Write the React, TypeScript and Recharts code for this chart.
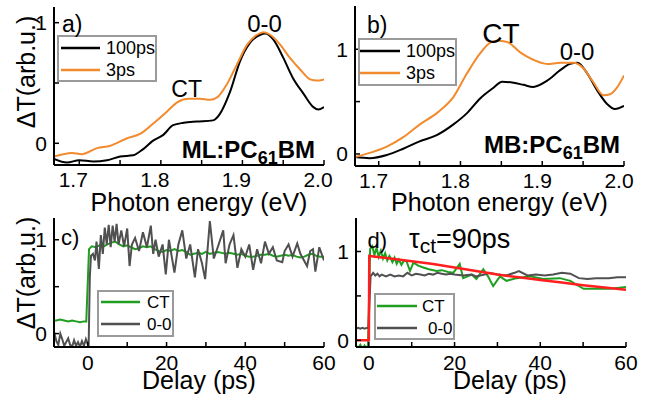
import React from 'react';
import { LineChart, Line, XAxis, YAxis } from 'recharts';

const FONT = '"Liberation Sans", Arial, sans-serif';

// a) ML:PC61BM spectra  [photon energy (eV), dT (arb.u.)]
const mlSpec100ps: [number, number][] = [
  [1.669, -0.13], [1.685, -0.16], [1.7, -0.14], [1.717, -0.15], [1.734, -0.14], [1.75, -0.11],
  [1.766, -0.1], [1.778, -0.05], [1.79, 0.02], [1.803, 0.07], [1.815, 0.15], [1.828, 0.17],
  [1.844, 0.18], [1.864, 0.19], [1.872, 0.24], [1.885, 0.43], [1.897, 0.68], [1.909, 0.83],
  [1.922, 0.9], [1.928, 0.91], [1.938, 0.86], [1.95, 0.71], [1.962, 0.54], [1.975, 0.41],
  [1.987, 0.3], [1.993, 0.28], [2.0, 0.3],
];
const mlSpec3ps: [number, number][] = [
  [1.669, -0.11], [1.691, -0.08], [1.703, -0.09], [1.722, -0.04], [1.738, -0.02], [1.758, 0.04],
  [1.775, 0.08], [1.79, 0.16], [1.807, 0.26], [1.82, 0.34], [1.834, 0.37], [1.848, 0.37],
  [1.86, 0.36], [1.869, 0.38], [1.881, 0.49], [1.893, 0.65], [1.906, 0.82], [1.918, 0.9],
  [1.926, 0.92], [1.934, 0.9], [1.946, 0.82], [1.958, 0.71], [1.971, 0.61], [1.983, 0.53],
  [1.991, 0.52], [2.0, 0.53],
];

// b) MB:PC61BM spectra
const mbSpec100ps: [number, number][] = [
  [1.671, -0.03], [1.689, -0.04], [1.71, -0.01], [1.73, 0.05], [1.75, 0.12], [1.771, 0.18],
  [1.791, 0.28], [1.808, 0.39], [1.824, 0.53], [1.84, 0.63], [1.851, 0.69], [1.865, 0.68],
  [1.877, 0.66], [1.889, 0.64], [1.906, 0.7], [1.922, 0.8], [1.934, 0.86], [1.943, 0.87],
  [1.955, 0.77], [1.967, 0.61], [1.979, 0.48], [1.989, 0.43], [2.0, 0.46],
];
const mbSpec3ps: [number, number][] = [
  [1.671, -0.03], [1.689, 0.01], [1.71, 0.07], [1.73, 0.16], [1.75, 0.28], [1.771, 0.39],
  [1.791, 0.54], [1.808, 0.77], [1.824, 0.96], [1.836, 1.06], [1.845, 1.08], [1.857, 1.07],
  [1.873, 0.97], [1.889, 0.9], [1.906, 0.86], [1.922, 0.87], [1.938, 0.87], [1.95, 0.82],
  [1.962, 0.69], [1.975, 0.56], [1.983, 0.57], [1.992, 0.64], [2.0, 0.75],
];

// c) ML:PC61BM kinetics  [delay (ps), dT (arb.u.)]
const mlKinCT: [number, number][] = [
  [-8.6, 0.14], [-8, 0.14], [-7, 0.15], [-6, 0.14], [-5, 0.13], [-4, 0.14], [-3, 0.13], [-2, 0.12],
  [-1, 0.13], [-0.4, 0.13], [0.3, 0.9], [1, 0.93], [2, 0.92], [3, 0.94], [4, 0.93], [5, 0.95],
  [6, 0.97], [7, 0.98], [8, 0.95], [9, 0.93], [10, 0.94], [11, 0.92], [12, 0.9], [13, 0.91],
  [14, 0.93], [15, 0.92], [16, 0.93], [17, 0.9], [18, 0.88], [19, 0.87], [20, 0.89], [21, 0.88],
  [22, 0.9], [23, 0.88], [24, 0.89], [25, 0.87], [26, 0.84], [27, 0.85], [28, 0.86], [29, 0.85],
  [30, 0.87], [31, 0.85], [32, 0.86], [33, 0.87], [34, 0.86], [35, 0.85], [36, 0.86], [37, 0.85],
  [38, 0.84], [39, 0.85], [40, 0.83], [41, 0.82], [42, 0.82], [43, 0.83], [44, 0.84], [45, 0.84],
  [46, 0.85], [47, 0.83], [48, 0.82], [49, 0.83], [50, 0.84], [51, 0.83], [52, 0.84], [53, 0.82],
  [54, 0.81], [55, 0.82], [56, 0.84], [57, 0.85], [58, 0.83], [59, 0.82], [60, 0.82],
];
const mlKin00: [number, number][] = [
  [-8.6, 0.02], [-8, -0.08], [-7.5, -0.12], [-7, 0.0], [-6.5, -0.06], [-6, -0.13], [-5, -0.05],
  [-4.5, -0.12], [-4, -0.14], [-3.5, -0.07], [-3, -0.13], [-2.5, -0.09], [-2, -0.14], [-1.5, -0.08],
  [-1, -0.13], [-0.5, -0.06], [0.2, -0.14], [0.5, 0.6], [0.8, 0.83], [1.3, 0.85], [1.8, 0.78],
  [2.2, 0.98], [2.8, 0.69], [3.3, 1.05], [3.8, 0.85], [4.3, 1.13], [4.8, 0.95], [5.3, 1.16],
  [5.8, 0.92], [6.3, 1.15], [6.8, 0.98], [7.3, 1.17], [7.8, 0.95], [8.5, 1.1], [9.2, 0.93],
  [10, 1.12], [10.6, 0.72], [11.2, 0.95], [12, 1.02], [13, 0.88], [14, 1.08], [15, 0.92],
  [16, 1.15], [16.6, 0.85], [17.2, 1.0], [18, 0.82], [19, 0.95], [19.8, 0.63], [20.6, 1.0],
  [22, 0.65], [23, 0.95], [24, 1.1], [25, 0.8], [26, 0.95], [27.2, 0.6], [28, 0.9], [29, 0.75],
  [29.8, 0.58], [31, 1.2], [32, 0.8], [33, 0.92], [34.4, 1.1], [35, 0.75], [36, 0.95], [37, 1.05],
  [38, 0.7], [39, 0.9], [40, 0.82], [41, 0.95], [42, 0.68], [43, 0.9], [44, 0.75], [45, 0.98],
  [46, 0.85], [47, 0.92], [48, 0.78], [49.4, 0.76], [50, 0.88], [51, 0.95], [52, 0.82], [53.2, 0.96],
  [54, 0.85], [55.7, 0.72], [56.5, 0.88], [57.2, 0.9], [57.8, 0.66], [58.8, 0.92], [60, 0.78],
];

// d) MB:PC61BM kinetics and single exponential fit
const mbKinCT: [number, number][] = [
  [-3, -0.06], [-2.5, -0.09], [-2, -0.05], [-1.5, -0.1], [-1, -0.06], [-0.5, -0.1], [-0.2, -0.05],
  [0.3, 1.03], [0.8, 1.06], [1.3, 0.96], [1.8, 1.04], [2.3, 0.94], [2.8, 1.01], [3.3, 0.92],
  [3.8, 0.98], [4.3, 0.9], [4.8, 0.95], [5.5, 0.88], [6, 0.93], [6.5, 0.86], [7, 0.91], [7.6, 0.85],
  [8.2, 0.9], [8.8, 0.89], [9.6, 0.78], [10.4, 0.875], [11.5, 0.84], [12.7, 0.82], [14, 0.8],
  [15.8, 0.78], [17, 0.79], [18.5, 0.77], [19.7, 0.76], [21.2, 0.86], [22, 0.7], [24, 0.74],
  [25.1, 0.69], [26.7, 0.8], [27.8, 0.72], [29, 0.61], [30.6, 0.72], [32.1, 0.67], [34.5, 0.7],
  [37.6, 0.72], [40.7, 0.69], [44.6, 0.7], [47, 0.67], [50.1, 0.58], [53, 0.58], [56, 0.58],
  [58, 0.59], [60, 0.6],
];
const mbKin00: [number, number][] = [
  [-3, 0.13], [-2.5, 0.14], [-2, 0.13], [-1.5, 0.14], [-1, 0.13], [-0.5, 0.14], [-0.1, 0.14],
  [0.4, 0.72], [1, 0.76], [1.5, 0.73], [2, 0.75], [2.5, 0.72], [3, 0.74], [4, 0.72], [5, 0.74],
  [6, 0.72], [7, 0.73], [8, 0.72], [9, 0.76], [10, 0.73], [11, 0.75], [12, 0.74], [13, 0.73],
  [14, 0.75], [15, 0.74], [16, 0.76], [17, 0.75], [18, 0.74], [19, 0.75], [20, 0.74], [22, 0.73],
  [24, 0.74], [25, 0.72], [27, 0.74], [28, 0.76], [30, 0.74], [32, 0.73], [34, 0.76], [35, 0.78],
  [37, 0.73], [39, 0.74], [41, 0.73], [43, 0.74], [45, 0.76], [47, 0.75], [49, 0.7], [51, 0.69],
  [53, 0.7], [56, 0.7], [58, 0.71], [60, 0.71],
];
const mbFitCT: [number, number][] = [
  [-3, 0], [0, 0], [0.1, 0.95], [5, 0.92], [10, 0.89], [15, 0.86], [20, 0.82], [25, 0.78],
  [30, 0.74], [35, 0.71], [40, 0.68], [45, 0.65], [50, 0.62], [55, 0.595], [60, 0.57],
];

const energyTicks = [1.7, 1.75, 1.8, 1.85, 1.9, 1.95, 2.0];
const delayTicks = [0, 10, 20, 30, 40, 50, 60];
const signalTicks = [0, 0.5, 1];

const energyLabel = (v: number) => (Math.round(v * 100) % 10 === 0 ? v.toFixed(1) : '');
const delayLabel = (v: number) => (v % 20 === 0 ? String(v) : '');
const signalLabel = (v: number) => (v === 0.5 ? '' : String(v));

const toPoints = (pairs: [number, number][]) => pairs.map(([x, y]) => ({ x, y }));

const axisLine = { stroke: '#000', strokeWidth: 2 };
const tickLine = { stroke: '#000', strokeWidth: 1.5 };
const tickFont = { fontSize: 21, fill: '#000', fontFamily: FONT };

const BLACK = '#000000';
const ORANGE = '#f28a2e';
const GREEN = '#1f9e1f';
const GREY = '#505050';
const RED = '#ff1f1f';

type Series = { name: string; data: [number, number][]; color: string; width?: number; legend?: boolean; type?: 'monotone' | 'linear' };

const seriesA: Series[] = [
  { name: '100ps', data: mlSpec100ps, color: BLACK, type: 'monotone' },
  { name: '3ps', data: mlSpec3ps, color: ORANGE, type: 'monotone' },
];
const seriesB: Series[] = [
  { name: '100ps', data: mbSpec100ps, color: BLACK, type: 'monotone' },
  { name: '3ps', data: mbSpec3ps, color: ORANGE, type: 'monotone' },
];
const seriesC: Series[] = [
  { name: 'CT', data: mlKinCT, color: GREEN },
  { name: '0-0', data: mlKin00, color: GREY },
];
const seriesD: Series[] = [
  { name: 'CT', data: mbKinCT, color: GREEN },
  { name: '0-0', data: mbKin00, color: GREY },
  { name: 'fit', data: mbFitCT, color: RED, width: 2.5, legend: false },
];

type LegendCfg = { left: number; top: number; width: number; height: number; firstRow: number; lineX: number; lineLen: number; textX: number; fontSize: number; indent?: number[] };

// framed legend: a line sample and the series name on each row
function LegendBox({ cfg, series }: { cfg: LegendCfg; series: Series[] }) {
  const items = series.filter((s) => s.legend !== false);
  return (
    <div
      style={{
        position: 'absolute', left: cfg.left, top: cfg.top, width: cfg.width, height: cfg.height,
        boxSizing: 'border-box', border: '2px solid #9a9a9a', background: '#fff',
      }}
    >
      <svg width={cfg.width} height={cfg.height} style={{ position: 'absolute', left: -2, top: -2 }} fontFamily={FONT}>
        {items.map((s, i) => {
          const cy = cfg.firstRow + i * 22;
          return (
            <g key={s.name}>
              <line x1={cfg.lineX} x2={cfg.lineX + cfg.lineLen} y1={cy} y2={cy} stroke={s.color} strokeWidth={2.5} />
              <text x={cfg.textX + (cfg.indent?.[i] ?? 0)} y={cy + cfg.fontSize * 0.355} fontSize={cfg.fontSize} fill="#000">
                {s.name}
              </text>
            </g>
          );
        })}
      </svg>
    </div>
  );
}

type PanelProps = {
  plot: { left: number; top: number; right: number; bottom: number };
  xDomain: [number, number];
  yDomain: [number, number];
  xTicks: number[];
  xFormat: (v: number) => string;
  xTickMargin: number;
  xTickDx: number;
  xTitle: string;
  xTitleOffset: number;
  xTitleDx: number;
  yTitle?: string;
  yTitleDy?: number;
  series: Series[];
};

function Panel(p: PanelProps) {
  const W = 649;
  const H = 400;
  return (
    <div style={{ position: 'absolute', left: 0, top: 0 }}>
      <LineChart
        width={W}
        height={H}
        margin={{ top: p.plot.top, right: W - p.plot.right, bottom: H - p.plot.bottom - 50, left: p.plot.left - 52 }}
      >
        <XAxis
          type="number" dataKey="x" domain={p.xDomain} allowDataOverflow ticks={p.xTicks} interval={0}
          tickFormatter={p.xFormat} height={50} tickSize={-5} tickMargin={p.xTickMargin}
          axisLine={axisLine} tickLine={tickLine} tick={{ ...tickFont, dx: p.xTickDx }}
          label={{ value: p.xTitle, position: 'insideBottom', offset: p.xTitleOffset, dx: p.xTitleDx, fontSize: 25, fill: '#000', fontFamily: FONT }}
        />
        <XAxis
          xAxisId="top" orientation="top" type="number" dataKey="x" domain={p.xDomain} allowDataOverflow
          ticks={p.xTicks} interval={0} height={0} tickSize={-5} axisLine={axisLine} tickLine={tickLine} tick={false}
        />
        <YAxis
          type="number" domain={p.yDomain} allowDataOverflow ticks={signalTicks} interval={0}
          tickFormatter={signalLabel} width={52} tickSize={-5} tickMargin={12}
          axisLine={axisLine} tickLine={tickLine} tick={tickFont}
          label={p.yTitle ? { value: p.yTitle, angle: -90, position: 'center', dx: -2, dy: p.yTitleDy, fontSize: 25, fill: '#000', fontFamily: FONT } : undefined}
        />
        <YAxis
          yAxisId="right" orientation="right" type="number" domain={p.yDomain} allowDataOverflow
          ticks={signalTicks} interval={0} width={0} tickSize={-5} axisLine={axisLine} tickLine={tickLine} tick={false}
        />
        {p.series.map((s) => (
          <Line
            key={s.name}
            data={toPoints(s.data)}
            dataKey="y"
            name={s.name}
            type={s.type ?? 'linear'}
            stroke={s.color}
            strokeWidth={s.width ?? 2}
            dot={false}
            isAnimationActive={false}
          />
        ))}
      </LineChart>
    </div>
  );
}

export default function App() {
  return (
    <div style={{ position: 'absolute', left: 0, top: 0, width: 649, height: 400, background: '#fff', fontFamily: FONT }}>
      <Panel
        plot={{ left: 54, top: 7, right: 324, bottom: 165 }}
        xDomain={[1.669, 2.0]} yDomain={[-0.18, 1.13]}
        xTicks={energyTicks} xFormat={energyLabel} xTickMargin={12} xTickDx={-6}
        xTitle="Photon energy (eV)" xTitleOffset={4} xTitleDx={10}
        yTitle="ΔT(arb.u.)" yTitleDy={-14}
        series={seriesA}
      />
      <Panel
        plot={{ left: 355, top: 6, right: 624, bottom: 166 }}
        xDomain={[1.671, 2.0]} yDomain={[-0.115, 1.413]}
        xTicks={energyTicks} xFormat={energyLabel} xTickMargin={12} xTickDx={-5}
        xTitle="Photon energy (eV)" xTitleOffset={5} xTitleDx={10}
        series={seriesB}
      />
      <Panel
        plot={{ left: 54, top: 218, right: 324, bottom: 347 }}
        xDomain={[-8.6, 60]} yDomain={[-0.143, 1.232]}
        xTicks={delayTicks} xFormat={delayLabel} xTickMargin={13} xTickDx={0}
        xTitle="Delay (ps)" xTitleOffset={8} xTitleDx={10}
        yTitle="ΔT(arb.u.)" yTitleDy={-9.5}
        series={seriesC}
      />
      <Panel
        plot={{ left: 356, top: 218, right: 626, bottom: 347 }}
        xDomain={[-3, 60]} yDomain={[-0.075, 1.377]}
        xTicks={delayTicks} xFormat={delayLabel} xTickMargin={13} xTickDx={0}
        xTitle="Delay (ps)" xTitleOffset={8} xTitleDx={19}
        series={seriesD}
      />
      <LegendBox series={seriesA} cfg={{ left: 57, top: 35, width: 100, height: 47, firstRow: 13, lineX: 4, lineLen: 39, textX: 49, fontSize: 18 }} />
      <LegendBox series={seriesB} cfg={{ left: 358, top: 38, width: 99, height: 48, firstRow: 13, lineX: 2, lineLen: 40, textX: 48, fontSize: 18 }} />
      <LegendBox series={seriesC} cfg={{ left: 97, top: 290, width: 77, height: 47, firstRow: 12, lineX: 4, lineLen: 39, textX: 50, fontSize: 17 }} />
      <LegendBox series={seriesD} cfg={{ left: 374, top: 293, width: 81, height: 47, firstRow: 13, lineX: 3, lineLen: 40, textX: 48, fontSize: 17, indent: [0, 6] }} />
      <svg width={649} height={400} style={{ position: 'absolute', left: 0, top: 0, pointerEvents: 'none' }} fontFamily={FONT} fill="#000">
        <text x={62} y={32} fontSize={23}>a)</text>
        <text x={264.5} y={31.5} fontSize={24} textAnchor="middle">0-0</text>
        <text x={186.7} y={96.5} fontSize={23} textAnchor="middle">CT</text>
        <text x={315} y={158} fontSize={24} fontWeight="bold" textAnchor="end">
          ML:PC<tspan fontSize={18} dy={6}>61</tspan><tspan dy={-6}>BM</tspan>
        </text>

        <text x={367} y={33} fontSize={23}>b)</text>
        <text x={501} y={42.5} fontSize={28} textAnchor="middle">CT</text>
        <text x={577} y={60} fontSize={24} textAnchor="middle">0-0</text>
        <text x={620} y={153} fontSize={24} fontWeight="bold" textAnchor="end">
          MB:PC<tspan fontSize={18} dy={6}>61</tspan><tspan dy={-6}>BM</tspan>
        </text>

        <text x={61} y={245} fontSize={22}>c)</text>

        <text x={367.5} y={248} fontSize={22}>d)</text>
        <text x={409} y={248} fontSize={27}>
          τ<tspan fontSize={21} dy={5}>ct</tspan><tspan dy={-5}>=90ps</tspan>
        </text>
      </svg>
    </div>
  );
}
